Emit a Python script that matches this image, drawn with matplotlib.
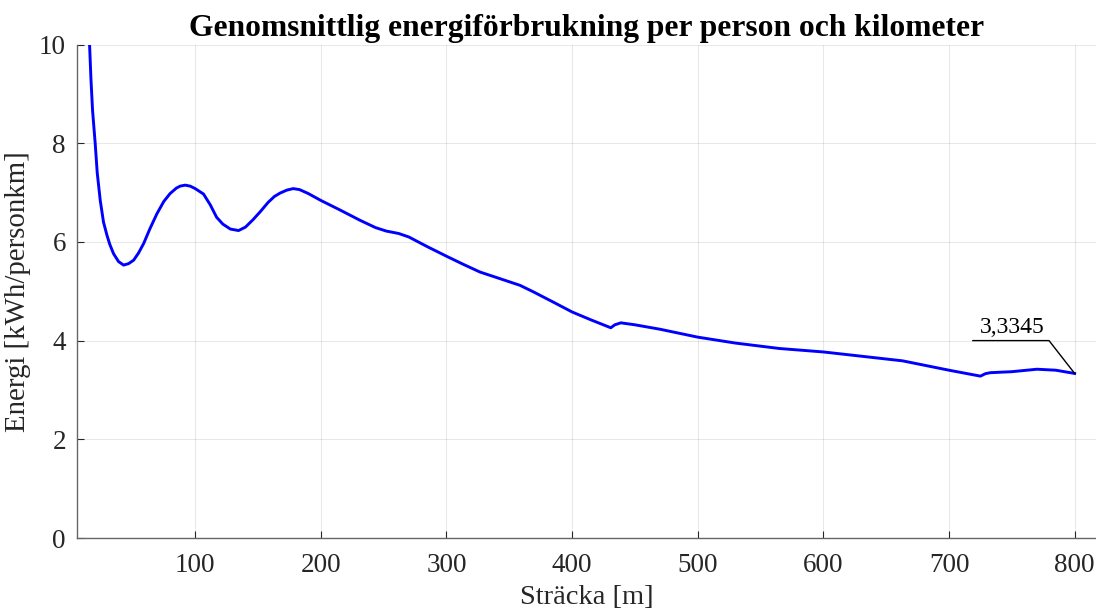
import numpy as np
import matplotlib.pyplot as plt

# Sträcka [m] och energi [kWh/personkm]
stracka = [12, 14, 15.9, 17, 18.3, 20.4, 22, 24.4, 27, 29.8, 32, 35, 39, 43, 47, 51,
           55, 59, 64, 69.5, 75, 80, 85, 88, 92, 96, 100, 106.6, 112, 117, 122, 128,
           134.5, 140, 146, 151.7, 158, 163, 167.6, 173, 178, 183, 190, 200, 215,
           231, 243.5, 252, 262, 270, 285, 300, 313, 326.6, 342, 358.5, 369, 385,
           400, 415, 430.8, 434, 438.8, 450, 470, 500, 530, 565, 600, 628, 663, 700,
           725, 729, 733, 750, 770, 785, 800]
energi = [12.5, 11.0, 10.0, 9.3, 8.66, 7.99, 7.4, 6.84, 6.4, 6.13, 5.95, 5.76, 5.6,
          5.53, 5.56, 5.63, 5.78, 5.97, 6.27, 6.57, 6.82, 6.98, 7.09, 7.13, 7.15,
          7.13, 7.08, 6.97, 6.75, 6.50, 6.36, 6.26, 6.23, 6.30, 6.45, 6.61, 6.80,
          6.92, 6.99, 7.05, 7.08, 7.06, 6.98, 6.84, 6.65, 6.44, 6.29, 6.22, 6.17,
          6.10, 5.90, 5.71, 5.55, 5.39, 5.26, 5.12, 4.99, 4.78, 4.58, 4.42, 4.26,
          4.32, 4.36, 4.32, 4.23, 4.07, 3.95, 3.84, 3.77, 3.69, 3.59, 3.40, 3.28,
          3.33, 3.35, 3.37, 3.42, 3.40, 3.3345]

x_ticks = [100, 200, 300, 400, 500, 600, 700, 800]
y_ticks = [0, 2, 4, 6, 8, 10]

plt.rcParams['font.family'] = ['Liberation Serif', 'DejaVu Serif']

fig = plt.figure(figsize=(10.96, 6.10), dpi=100)
ax = fig.add_axes([77 / 1096, 1 - 538 / 610, 1 - 77 / 1096, (538 - 44.5) / 610])

ax.plot(stracka, energi, color=(0, 0, 1), linewidth=2.1, solid_joinstyle='round')

ax.set_xlim(5.9, 817)
ax.set_ylim(0, 10)
ax.set_xticks(x_ticks)
ax.set_yticks(y_ticks)
ax.tick_params(direction='in', length=5, width=0.8, colors=(0.15, 0.15, 0.15),
               labelsize=19.5, pad=8)
ax.tick_params(axis='x', pad=11)
for side in ['top', 'right']:
    ax.spines[side].set_visible(False)
for side in ['left', 'bottom']:
    ax.spines[side].set_color((0.4, 0.4, 0.4))
    ax.spines[side].set_linewidth(1.0)
ax.grid(True, color=(0.15, 0.15, 0.15), alpha=0.1, linewidth=0.8)

ax.set_title('Genomsnittlig energiförbrukning per person och kilometer',
             fontsize=22.7, fontweight='bold', pad=6)
ax.set_xlabel('Sträcka [m]', fontsize=20.5, color=(0.15, 0.15, 0.15), labelpad=5)
ax.set_ylabel('Energi [kWh/personkm]', fontsize=20.8, color=(0.15, 0.15, 0.15), labelpad=6)

# Datatips för sista punkten
x_end, y_end = stracka[-1], energi[-1]
ax.plot([719, 779.6, x_end], [4.0, 4.0, y_end], color='black', linewidth=1.0,
        clip_on=False)
ax.text(750, 4.05, f'{y_end:.4f}'.replace('.', ','), ha='center', va='bottom',
        fontsize=17)

fig.savefig('out.png', dpi=100)
